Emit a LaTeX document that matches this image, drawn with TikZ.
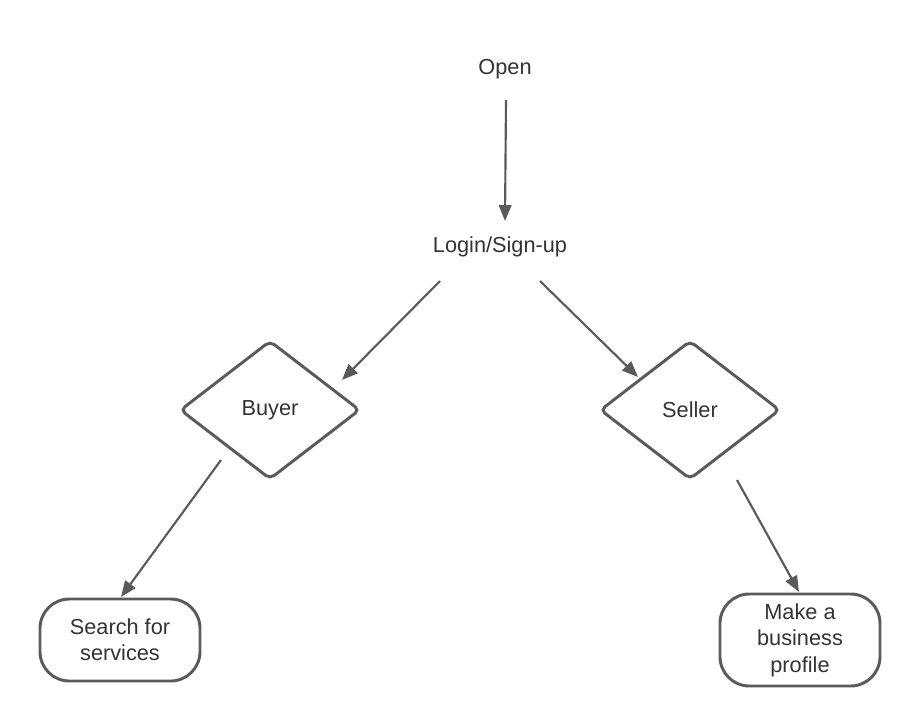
\documentclass[tikz,border=0pt]{standalone}
\usepackage{fontspec}
\setmainfont{Liberation Sans}
\usetikzlibrary{shapes.geometric,arrows.meta}

\definecolor{lineGray}{RGB}{90,90,90}
\definecolor{textGray}{RGB}{51,51,51}

\tikzset{every picture/.style={line width=0.75pt}}
\tikzset{
  label/.style={inner sep=0.75pt, text=textGray, font=\fontsize{16.3}{19.8}\selectfont, align=center},
  choice/.style={label, shape=diamond, draw=lineGray, line width=2.2pt, rounded corners=4pt,
    minimum width=135pt, minimum height=104pt, inner sep=0pt},
  endbox/.style={label, draw=lineGray, line width=2.2pt, rounded corners=22pt,
    minimum width=120pt},
  link/.style={draw=lineGray, line width=1.6pt, -{Triangle[length=12pt,width=9.5pt]}}
}

\begin{document}
\begin{tikzpicture}[x=0.75pt,y=0.75pt,yscale=-1,xscale=1]
%set diagram left start at 0, and has size of 920 x 725
\useasboundingbox (0,0) rectangle (920,725);

% Text Node
\node (open) [label] at (505,69) {Open};
% Text Node
\node (login) [label] at (500,247) {Login/Sign-up};
% Diamond
\node (buyer) [choice] at (270,410) {Buyer};
% Diamond
\node (seller) [choice] at (690,410) {Seller};
% Rounded Rect
\node (search) [endbox, minimum height=61.5pt] at (120,640) {Search for\\services};
% Rounded Rect
\node (profile) [endbox, minimum height=69pt] at (800,640) {Make a\\business\\profile};

%Arrows
\draw [link] ([shift={(1,31)}]open.center) -- ([shift={(5,-26)}]login.center) ;
\draw [link] ([shift={(-60,34)}]login.center) -- ([shift={(72,-30)}]buyer.center) ;
\draw [link] ([shift={(40,34)}]login.center) -- ([shift={(-52,-33)}]seller.center) ;
\draw [link] ([shift={(-49,50)}]buyer.center) -- ([shift={(1,-43)}]search.center) ;
\draw [link] ([shift={(47,70)}]seller.center) -- ([shift={(-1,-48)}]profile.center) ;

\end{tikzpicture}
\end{document}
